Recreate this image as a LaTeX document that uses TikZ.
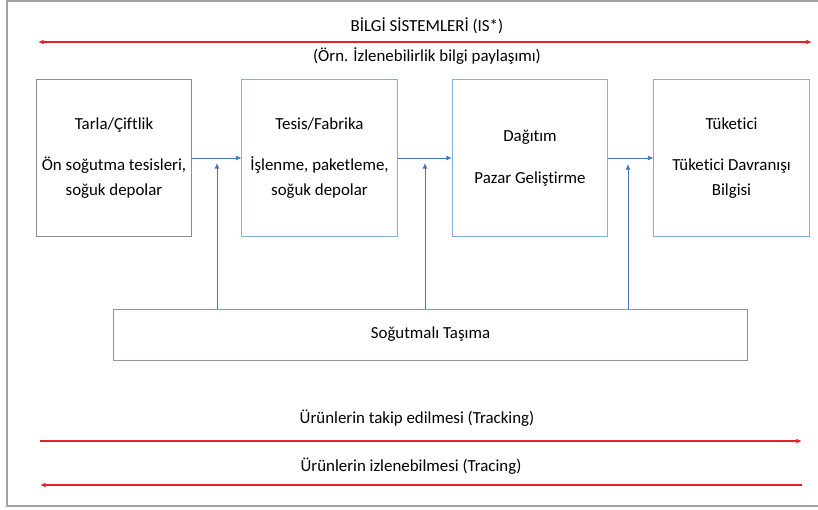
\documentclass[tikz,border=0pt]{standalone}
\usepackage{fontspec}
\setmainfont{Carlito}[Ligatures=NoCommon]
\usetikzlibrary{arrows.meta}
\definecolor{flowblue}{HTML}{4472C4}
\definecolor{boxblue}{HTML}{8FAADC}
\definecolor{boxgrey}{HTML}{8C8C8C}
\definecolor{infored}{HTML}{E8202A}
\tikzset{
  stage/.style={draw=boxblue,line width=0.7pt,minimum width=3.875cm,minimum height=3.925cm,
    align=center,inner sep=0pt,execute at begin node={\rule{0pt}{18pt}}},
  flow/.style={draw=flowblue,line width=0.6pt,-{Latex[length=4pt,width=3.5pt]}},
  infoline/.style={draw=infored,line width=0.8pt},
  lbl/.style={inner sep=0pt}
}
\begin{document}
\begin{tikzpicture}[x=0.025cm,y=-0.025cm,
    every node/.style={font=\fontsize{12}{17.7}\selectfont}]
     \useasboundingbox (0,0) rectangle (818,509);
     \draw[boxgrey!80,line width=0.8pt] (7,1) rectangle (830,506);
     % information systems
     \node[lbl] (is)  at (427,26) {BİLGİ SİSTEMLERİ (IS*)};
     \node[lbl] (ex)  at (427,56) {(Örn. İzlenebilirlik bilgi paylaşımı)};
     \coordinate (isL) at (38,42);
     \coordinate (isR) at (812,42);
     \draw[infoline,{Latex[length=4pt,width=3.5pt]}-{Latex[length=4pt,width=3.5pt]}] (isL) -- (isR);
     % chain stages
     \node[stage,draw=boxgrey] (farm)  at (114,158)   {Tarla/Çiftlik\\[12pt] Ön soğutma tesisleri,\\ soğuk depolar};
     \node[stage] (plant) at (319.5,158) {Tesis/Fabrika\\[12pt] İşlenme, paketleme,\\ soğuk depolar};
     \node[stage] (dist)  at (530,158)   {Dağıtım\\[12pt] Pazar Geliştirme};
     \node[stage] (cons)  at (731.5,158) {Tüketici\\[12pt] Tüketici Davranışı\\ Bilgisi};
     \node[draw=boxgrey!70!boxblue,line width=0.7pt,minimum width=15.825cm,minimum height=1.275cm]
        (cold) at (430.5,334.5) {Soğutmalı Taşıma};
     \draw[flow] (farm.east) -- (plant.west);
     \draw[flow] (plant.east) -- (dist.west);
     \draw[flow] (dist.east) -- (cons.west);
     \coordinate (up1) at (217,163);
     \coordinate (up2) at (425,163);
     \coordinate (up3) at (628,164);
     \foreach \u in {up1,up2,up3} {
      \draw[flow] (cold.north -| \u) -- (\u);
     }
     % tracking and tracing
     \node[lbl] (track) at (417,418) {Ürünlerin takip edilmesi (Tracking)};
     \node[lbl] (trace) at (411,466) {Ürünlerin izlenebilmesi (Tracing)};
     \coordinate (tkL) at (40,441);
     \coordinate (tkR) at (802,441);
     \coordinate (tcL) at (40,485);
     \coordinate (tcR) at (802,485);
     \draw[infoline,-{Latex[length=4pt,width=3.5pt]}] (tkL) -- (tkR);
     \draw[infoline,-{Latex[length=4pt,width=3.5pt]}] (tcR) -- (tcL);
    \end{tikzpicture}
\end{document}
